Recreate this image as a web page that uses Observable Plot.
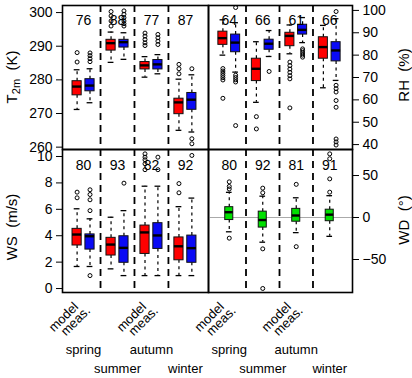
<!DOCTYPE html>
<html><head><meta charset="utf-8">
<script src="https://cdn.jsdelivr.net/npm/d3@7"></script>
<script src="https://cdn.jsdelivr.net/npm/@observablehq/plot@0.6"></script>
<style>
html,body{margin:0;padding:0;background:#fff;}
#chart{position:relative;width:412px;height:378px;overflow:hidden;background:#fff;}
#chart svg{position:absolute;left:0;top:0;}
</style></head><body><div id="chart"></div>
<script>
const seasons = ["spring","summer","autumn","winter"];
const seasonPos = [1, 2, 3, 4];
const separators = [1.5, 2.5, 3.5];
const sourceLabels = ["model", "meas."];
const labelledSeasons = [1, 3];

// counts shown at the top of each season
const t2mCounts = [76, 88, 77, 87];
const rhCounts = [64, 66, 61, 66];
const wsCounts = [80, 93, 82, 92];
const wdCounts = [80, 92, 81, 91];

// box statistics per season: [lower whisker, Q1, median, Q3, upper whisker]
const t2mModel = [[271.2, 275.4, 278.0, 279.6, 283.0], [285.2, 288.7, 290.9, 291.9, 294.2], [280.8, 283.1, 284.3, 285.3, 286.9], [265.0, 269.8, 273.3, 274.4, 280.2]];
const t2mModelOut = [[285.3, 288.1], [296.0, 297.5, 299.0, 300.3], [290.2, 291.0, 292.0, 293.0, 293.9], [281.8, 283.3, 284.6]];
const t2mMeas = [[273.2, 276.6, 278.3, 280.2, 283.3], [286.1, 289.6, 291.2, 291.9, 294.0], [281.8, 283.1, 284.6, 285.9, 287.5], [264.5, 271.1, 274.1, 276.1, 281.5]];
const t2mMeasOut = [[285.4, 286.3, 287.2, 288.0], [296.0, 296.7, 297.5, 298.5, 299.5, 300.5], [290.5, 291.5, 292.5, 293.5], [261.0, 262.5, 283.3]];

const rhModel = [[80.0, 84.6, 87.6, 90.5, 95.8], [58.9, 68.4, 73.9, 78.4, 86.0], [80.6, 84.0, 88.6, 90.0, 93.5], [65.4, 78.4, 83.6, 88.0, 93.3]];
const rhModelOut = [[60.7, 68.9, 69.9, 70.9, 71.9, 72.9, 74.0], [47.0, 52.5], [56.4, 69.4, 70.8, 72.3, 73.8, 75.3, 76.9], []];
const rhMeas = [[72.4, 81.3, 85.6, 89.2, 94.5], [79.4, 82.4, 85.1, 86.9, 91.0], [85.6, 89.2, 91.3, 93.6, 96.8], [68.7, 77.2, 82.1, 85.8, 96.3]];
const rhMeasOut = [[48.5, 68.0, 69.0, 70.0, 71.0, 101.3], [72.7], [79.1, 80.0, 81.0, 82.0, 82.8], [39.8, 41.2, 42.5, 56.7, 59.7, 63.5, 65.0, 66.5, 99.5]];

const wsModel = [[1.67, 3.26, 4.09, 4.52, 6.04], [1.49, 2.50, 3.33, 3.84, 5.40], [0.98, 2.62, 4.25, 4.77, 7.75], [0.98, 2.14, 3.20, 3.87, 6.20]];
const wsModelOut = [[6.87, 7.30], [], [9.00, 9.45, 9.75, 9.95, 10.20], [7.25, 7.95]];
const wsMeas = [[1.67, 2.95, 3.96, 4.10, 5.28], [0.98, 1.95, 3.08, 3.96, 5.90], [0.98, 3.00, 4.02, 4.95, 7.75], [0.98, 1.95, 3.06, 4.01, 6.85]];
const wsMeasOut = [[0.98, 5.90, 6.72, 7.12, 7.48], [7.98], [9.00, 9.95], [10.08]];

const wdModel = [[-17.0, -3.0, 6.3, 12.3, 30.0], [-29.4, -12.0, -3.0, 7.0, 25.4], [-18.0, -5.0, 2.4, 10.3, 23.5], [-22.4, -4.4, 3.4, 9.3, 26.0]];
const wdModelOut = [[-24.6, 34.0, 37.0, 42.5], [-84.5, -37.3, 29.5, 35.0], [-34.7, 39.5], [30.2, 46.0, 70.0, 75.8]];

const RED = "#f00", BLUE = "#0a0af5", GREEN = "#00e000";
const FONT = "'Liberation Sans', Arial, Helvetica, sans-serif";
const XDOMAIN = [0.38, 4.68];

function boxes(stats, offset) {
  return stats.map((s, i) => ({x: seasonPos[i] + offset, lo: s[0], q1: s[1], med: s[2], q3: s[3], hi: s[4]}));
}
function outliers(outs, offset) {
  return outs.flatMap((arr, i) => arr.map(v => ({x: seasonPos[i] + offset, y: v})));
}
function boxMarks(stats, outs, offset, fill, half) {
  const rows = boxes(stats, offset);
  const st = 0.085;
  return [
    Plot.ruleX(rows, {x: "x", y1: "q3", y2: "hi", stroke: "#000", strokeWidth: 1.2, strokeDasharray: "3,3.5"}),
    Plot.ruleX(rows, {x: "x", y1: "q1", y2: "lo", stroke: "#000", strokeWidth: 1.2, strokeDasharray: "3,3.5"}),
    Plot.ruleY(rows, {y: "hi", x1: d => d.x - st, x2: d => d.x + st, stroke: "#000", strokeWidth: 1.3}),
    Plot.ruleY(rows, {y: "lo", x1: d => d.x - st, x2: d => d.x + st, stroke: "#000", strokeWidth: 1.3}),
    Plot.rect(rows, {x1: d => d.x - half, x2: d => d.x + half, y1: "q1", y2: "q3", fill, stroke: "#111", strokeWidth: 1}),
    Plot.ruleY(rows, {y: "med", x1: d => d.x - half, x2: d => d.x + half, stroke: "#000", strokeWidth: 2.4}),
    Plot.dot(outliers(outs, offset), {x: "x", y: "y", r: 2, stroke: "#000", strokeWidth: 1, fill: "none"})
  ];
}

function panel({x0, x1, y0, y1, yDomain, yTicks, side, counts, countDy, series, zeroLine, bottomLabels}) {
  const marks = [];
  if (zeroLine) marks.push(Plot.ruleY([0], {stroke: "#aaa", strokeWidth: 1}));
  marks.push(Plot.ruleX(separators, {stroke: "#000", strokeWidth: 1.8, strokeDasharray: "7,5"}));
  for (const s of series) marks.push(...boxMarks(s.stats, s.outs, s.offset, s.fill, s.half));
  marks.push(Plot.text(counts, {x: (d, i) => seasonPos[i], text: d => String(d), frameAnchor: "top", dy: countDy, fontSize: 14}));
  if (bottomLabels) {
    const rows = labelledSeasons.map(p => ({x: p - 0.19, label: sourceLabels[0]}));
    const rows2 = labelledSeasons.map(p => ({x: p + 0.19, label: sourceLabels[1]}));
    marks.push(Plot.text(rows, {x: "x", text: "label", frameAnchor: "bottom", dy: 15, dx: 2, rotate: -45, textAnchor: "end", lineAnchor: "bottom", fontSize: 13}));
    marks.push(Plot.text(rows2, {x: "x", text: "label", frameAnchor: "bottom", dy: 19, dx: 1, rotate: -45, textAnchor: "end", lineAnchor: "bottom", fontSize: 13}));
    const sRows = seasons.map((s, i) => ({x: seasonPos[i], label: s}));
    marks.push(Plot.text(sRows.filter((d, i) => i % 2 === 0), {x: "x", text: "label", frameAnchor: "bottom", dy: 61, fontSize: 13}));
    marks.push(Plot.text(sRows.filter((d, i) => i % 2 === 1), {x: "x", text: "label", frameAnchor: "bottom", dy: 80, fontSize: 13}));
  }
  marks.push(Plot.frame({stroke: "#000", strokeWidth: 1.6}));
  return Plot.plot({
    width: 412, height: 378,
    marginLeft: x0, marginRight: 412 - x1, marginTop: y0, marginBottom: 378 - y1,
    x: {domain: XDOMAIN, axis: null},
    y: {domain: yDomain, ticks: yTicks, axis: side, tickSize: 6, tickPadding: 4, label: null, tickFormat: d => String(d).replace("-", "\u2212")},
    style: {background: "transparent", fontSize: "14px", fontFamily: FONT, color: "#000", overflow: "visible"},
    marks
  });
}

const chart = document.getElementById("chart");
const L0 = 62, MID = 208, R1 = 352, T0 = 5, HM = 149, B1 = 292;

const p1 = panel({x0: L0, x1: MID, y0: T0, y1: HM, yDomain: [259.3, 302.1], yTicks: [260, 270, 280, 290, 300], side: "left",
  counts: t2mCounts, countDy: 10,
  series: [{stats: t2mModel, outs: t2mModelOut, offset: -0.19, fill: RED, half: 0.135}, {stats: t2mMeas, outs: t2mMeasOut, offset: 0.19, fill: BLUE, half: 0.135}]});
const p2 = panel({x0: MID, x1: R1, y0: T0, y1: HM, yDomain: [37.8, 102.2], yTicks: [40, 50, 60, 70, 80, 90, 100], side: "right",
  counts: rhCounts, countDy: 10,
  series: [{stats: rhModel, outs: rhModelOut, offset: -0.19, fill: RED, half: 0.135}, {stats: rhMeas, outs: rhMeasOut, offset: 0.19, fill: BLUE, half: 0.135}]});
const p3 = panel({x0: L0, x1: MID, y0: HM, y1: B1, yDomain: [-0.3, 10.53], yTicks: [0, 2, 4, 6, 8, 10], side: "left",
  counts: wsCounts, countDy: 11, bottomLabels: true,
  series: [{stats: wsModel, outs: wsModelOut, offset: -0.19, fill: RED, half: 0.135}, {stats: wsMeas, outs: wsMeasOut, offset: 0.19, fill: BLUE, half: 0.135}]});
const p4 = panel({x0: MID, x1: R1, y0: HM, y1: B1, yDomain: [-89.3, 81], yTicks: [-50, 0, 50], side: "right",
  counts: wdCounts, countDy: 11, bottomLabels: true, zeroLine: true,
  series: [{stats: wdModel, outs: wdModelOut, offset: 0, fill: GREEN, half: 0.12}]});

for (const p of [p1, p2, p3, p4]) chart.appendChild(p);

// axis titles
function title(svg, x, y, parts) {
  const t = d3.select(svg).append("text")
    .attr("transform", `translate(${x},${y}) rotate(-90)`)
    .attr("text-anchor", "middle")
    .attr("font-family", FONT).attr("font-size", 15).attr("fill", "#000");
  for (const [txt, sub] of parts) {
    const s = t.append("tspan").text(txt);
    if (sub === "sub") s.attr("font-size", 11).attr("baseline-shift", "-25%");
  }
}
title(p1, 17, 77, [["T"], ["2m", "sub"], ["  (K)"]]);
title(p2, 409, 75, [["RH  (%)"]]);
title(p3, 17, 227, [["WS  (m/s)"]]);
title(p4, 409, 220, [["WD  (°)"]]);
d3.selectAll("#chart svg text").style("white-space", "pre");
</script></body></html>
